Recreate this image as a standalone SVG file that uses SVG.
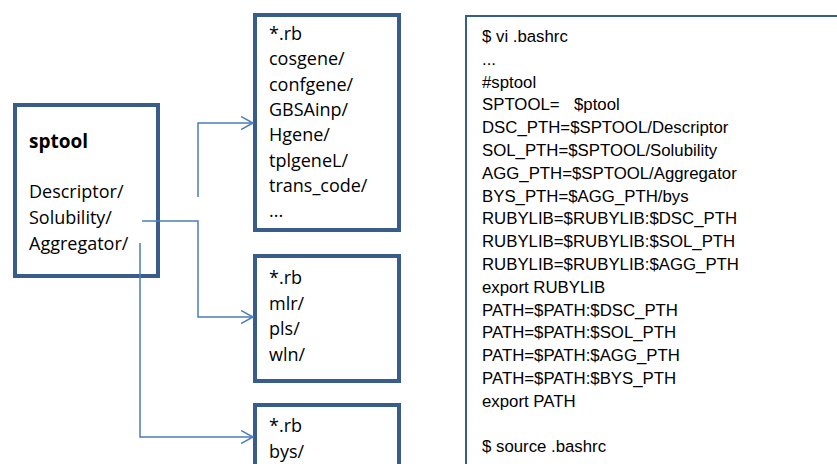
<svg xmlns="http://www.w3.org/2000/svg" width="837" height="464" viewBox="0 0 837 464">
  <style>
    .box { fill: #ffffff; stroke: #385d8a; stroke-width: 4; }
    .code { fill: #ffffff; stroke: #385d8a; stroke-width: 2; }
    .lbl { font-family: "Open Sans", "Liberation Sans", sans-serif; font-size: 18px; fill: #000000; }
    .title { font-family: "Open Sans", "Liberation Sans", sans-serif; font-size: 19px; font-weight: bold; fill: #000000; }
    .sh { font-family: "Liberation Sans", Arial, sans-serif; font-size: 16.8px; fill: #000000; }
    .wire { fill: none; stroke: #4a7ebb; stroke-width: 1.5; }
  </style>
  <defs>
    <marker id="open-arrow" markerUnits="userSpaceOnUse" markerWidth="14" markerHeight="16" refX="12" refY="7" orient="auto" viewBox="0 0 14 16">
      <path d="M0,0.5 L12,7 L0,13.5" fill="none" stroke="#4a7ebb" stroke-width="1.5"/>
    </marker>
  </defs>

  <rect width="837" height="464" fill="#ffffff"/>

  <!-- root directory -->
  <g id="sptool">
    <rect class="box" x="15" y="105" width="143" height="171"/>
    <text class="title" x="29" y="148">sptool</text>
    <text class="lbl" x="29" y="198">Descriptor/</text>
    <text class="lbl" x="29" y="224">Solubility/</text>
    <text class="lbl" x="29" y="250">Aggregator/</text>
  </g>

  <!-- Descriptor contents -->
  <g id="descriptor">
    <rect class="box" x="255" y="15" width="144" height="215"/>
    <text class="lbl" x="269" y="40">*.rb</text>
    <text class="lbl" x="269" y="65">cosgene/</text>
    <text class="lbl" x="269" y="91">confgene/</text>
    <text class="lbl" x="269" y="116">GBSAinp/</text>
    <text class="lbl" x="269" y="141">Hgene/</text>
    <text class="lbl" x="269" y="167">tplgeneL/</text>
    <text class="lbl" x="269" y="192">trans_code/</text>
    <text class="lbl" x="269" y="217">...</text>
  </g>

  <!-- Solubility contents -->
  <g id="solubility">
    <rect class="box" x="255" y="256" width="144" height="125"/>
    <text class="lbl" x="269" y="284">*.rb</text>
    <text class="lbl" x="269" y="310">mlr/</text>
    <text class="lbl" x="269" y="335">pls/</text>
    <text class="lbl" x="269" y="361">wln/</text>
  </g>

  <!-- Aggregator contents -->
  <g id="aggregator">
    <rect class="box" x="255" y="405" width="144" height="80"/>
    <text class="lbl" x="269" y="432">*.rb</text>
    <text class="lbl" x="269" y="458">bys/</text>
  </g>

  <!-- .bashrc settings -->
  <g id="bashrc">
    <rect class="code" x="466" y="16" width="400" height="470"/>
    <text class="sh" x="482" y="42">$ vi .bashrc</text>
    <text class="sh" x="482" y="64.8">...</text>
    <text class="sh" x="482" y="87.6">#sptool</text>
    <text class="sh" x="482" y="110.4">SPTOOL=<tspan x="574">$ptool</tspan></text>
    <text class="sh" x="482" y="133.2">DSC_PTH=$SPTOOL/Descriptor</text>
    <text class="sh" x="482" y="156">SOL_PTH=$SPTOOL/Solubility</text>
    <text class="sh" x="482" y="178.8">AGG_PTH=$SPTOOL/Aggregator</text>
    <text class="sh" x="482" y="201.6">BYS_PTH=$AGG_PTH/bys</text>
    <text class="sh" x="482" y="224.4">RUBYLIB=$RUBYLIB:$DSC_PTH</text>
    <text class="sh" x="482" y="247.2">RUBYLIB=$RUBYLIB:$SOL_PTH</text>
    <text class="sh" x="482" y="270">RUBYLIB=$RUBYLIB:$AGG_PTH</text>
    <text class="sh" x="482" y="292.8">export RUBYLIB</text>
    <text class="sh" x="482" y="315.6">PATH=$PATH:$DSC_PTH</text>
    <text class="sh" x="482" y="338.4">PATH=$PATH:$SOL_PTH</text>
    <text class="sh" x="482" y="361.2">PATH=$PATH:$AGG_PTH</text>
    <text class="sh" x="482" y="384">PATH=$PATH:$BYS_PTH</text>
    <text class="sh" x="482" y="406.8">export PATH</text>
    <text class="sh" x="482" y="452.4">$ source .bashrc</text>
  </g>

  <!-- connectors -->
  <g id="connectors">
    <path class="wire" d="M198,197 V123 H253" marker-end="url(#open-arrow)"/>
    <path class="wire" d="M142,221 H198 V317 H253" marker-end="url(#open-arrow)"/>
    <path class="wire" d="M140,243 V437 H253" marker-end="url(#open-arrow)"/>
  </g>
</svg>
